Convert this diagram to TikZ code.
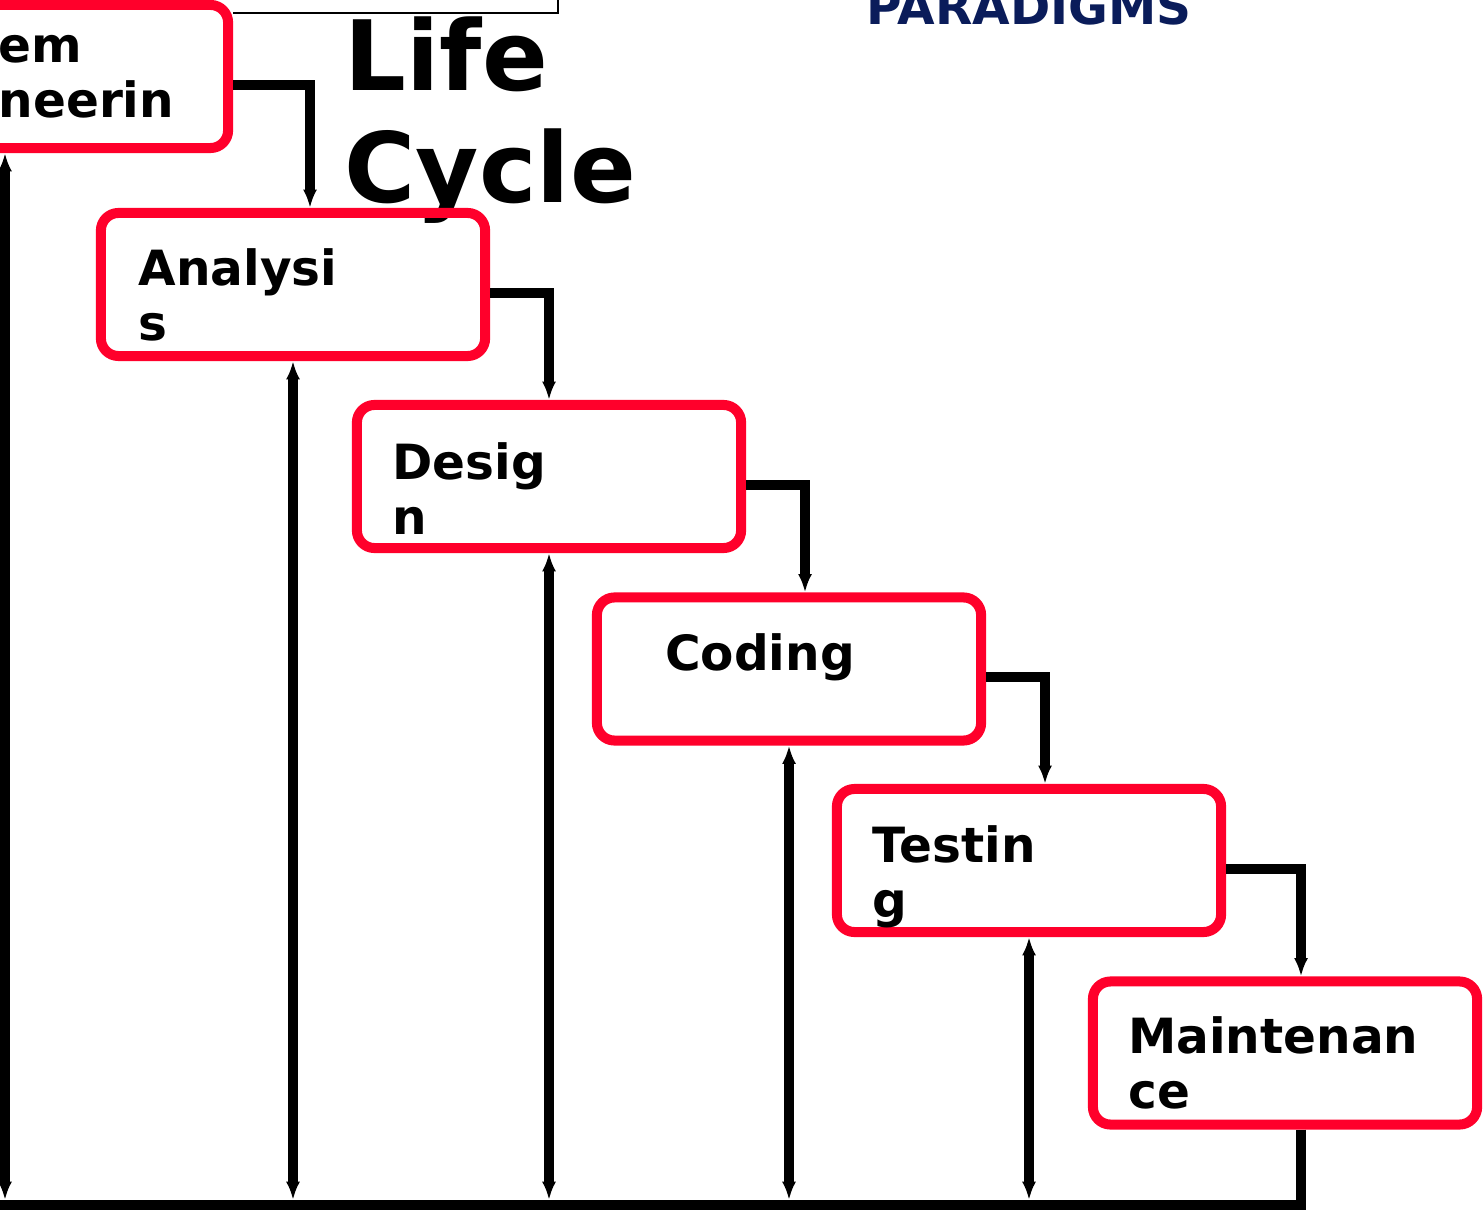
\documentclass[tikz,border=0pt]{standalone}
\usepackage{fontspec}
\setmainfont{DejaVu Sans}
\usetikzlibrary{arrows.meta}

\definecolor{boxred}{RGB}{255,0,43}
\definecolor{titlenavy}{RGB}{10,28,90}

\begin{document}
\begin{tikzpicture}[x=0.01cm, y=-0.01cm,
    phase/.style={draw=boxred, line width=2.85pt, rounded corners=5pt,
      minimum width=3.84cm, minimum height=1.43cm, inner sep=0pt},
    lbl/.style={anchor=north west, inner sep=0pt, align=left,
      font=\fontsize{13.8}{15.65}\selectfont\bfseries},
    flow/.style={line width=2.8pt, -{Latex[length=5.2pt,width=4pt]}},
    fb/.style={line width=2.8pt, {Latex[length=5.2pt,width=4pt]}-{Latex[length=5.2pt,width=4pt]}}]

    % frame
    \useasboundingbox (0,0) rectangle (1483,1210);
    \fill[white] (0,0) rectangle (1483,1210);
    \clip (0,0) rectangle (1483,1210);

    % title pieces
    \node[anchor=base west, inner sep=0pt, text=titlenavy,
      font=\fontsize{13.8}{15.65}\selectfont\bfseries] (para) at (866,25) {PARADIGMS};
    \node[anchor=north west, inner sep=0pt, align=left,
      font=\fontsize{27.6}{31.87}\selectfont\bfseries] (lc) at (344,11.6) {\strut Life\\Cycle};

    % phases
    \node[phase] (sys) at (36,76.5) {};
    \node[phase] (ana) at (293,284.5) {};
    \node[phase] (des) at (549,476.5) {};
    \node[phase] (cod) at (789,669) {};
    \node[phase] (tst) at (1029,860.5) {};
    \node[phase] (mnt) at (1285,1053) {};

    \draw[line width=0.6pt] (sys.east |- 0,13) -- (558,13) -- (558,-30);

    \node[lbl] (sysT) at (-2,23.5) {\strut em\\neerin};
    \node[lbl] (anaT) at (138,246.5) {\strut Analysi\\s};
    \node[lbl] (desT) at (392,440.5) {\strut Desig\\n};
    \node[lbl] (codT) at (664.5,631.5) {\strut Coding};
    \node[lbl] (tstT) at (872,823.5) {\strut Testin\\g};
    \node[lbl] (mntT) at (1127.5,1014.5) {\strut Maintenan\\ce};

    % forward steps
    \draw[flow] (sys.east |- 0,85) -| (310,0 |- ana.north);
    \draw[flow] (ana.east |- 0,293) -| (des.north);
    \draw[flow] (des.east |- 0,485) -| (805,0 |- cod.north);
    \draw[flow] (cod.east |- 0,677) -| (1045,0 |- tst.north);
    \draw[flow] (tst.east |- 0,869) -| (1301,0 |- mnt.north);

    % feedback to every phase
    \coordinate (base) at (0,1200);
    \draw[fb] (5,0 |- base) -- (5,0 |- sys.south);
    \draw[fb] (ana.south |- base) -- (ana.south);
    \draw[fb] (des.south |- base) -- (des.south);
    \draw[fb] (cod.south |- base) -- (cod.south);
    \draw[fb] (tst.south |- base) -- (tst.south);
    \draw[line width=2.85pt] (1301,0 |- mnt.south) -- (1301,1205) -- (0,1205);
  \end{tikzpicture}
\end{document}
